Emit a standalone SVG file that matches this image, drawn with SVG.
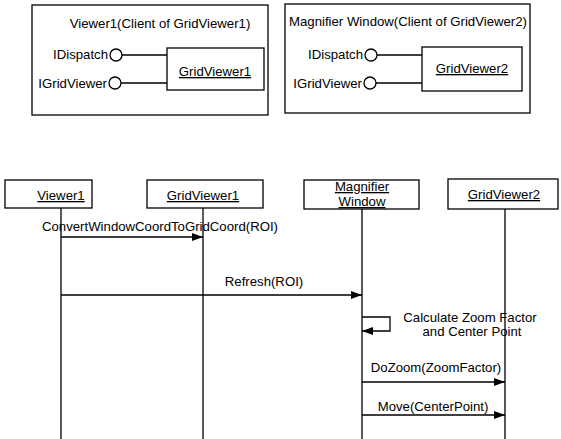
<svg xmlns="http://www.w3.org/2000/svg" width="561" height="439" viewBox="0 0 561 439">
<style>
text{font-family:"Liberation Sans",Arial,sans-serif;font-size:13.2px;fill:#000}
.b{fill:#fff;stroke:#000;stroke-width:1.3}
.l{stroke:#000;stroke-width:1.3;fill:none}
.c{text-anchor:middle}
.u{text-decoration:underline}
.e{text-anchor:end}
</style>
<defs>
<marker id="ah" markerWidth="12" markerHeight="8" refX="11" refY="4" orient="auto" markerUnits="userSpaceOnUse">
<path d="M0,0 L11,4 L0,8 Z" fill="#000"/>
</marker>
</defs>
<g id="viewer1-component">
<rect class="b" x="32" y="5" width="236" height="110"/>
<text class="c" x="160" y="28">Viewer1(Client of GridViewer1)</text>
<text class="e" x="108" y="59">IDispatch</text>
<text class="e" x="107" y="88">IGridViewer</text>
<circle class="b" cx="116" cy="55" r="6"/>
<circle class="b" cx="115" cy="83" r="6"/>
<line class="l" x1="122" y1="55" x2="167" y2="55"/>
<line class="l" x1="121" y1="83" x2="167" y2="83"/>
<rect class="b" x="167" y="48" width="97" height="42"/>
<text class="c u" x="215" y="76">GridViewer1</text>
</g>
<g id="magnifier-component">
<rect class="b" x="285" y="4" width="245" height="109"/>
<text class="c" x="408" y="26">Magnifier Window(Client of GridViewer2)</text>
<text class="e" x="363" y="59">IDispatch</text>
<text class="e" x="362" y="88">IGridViewer</text>
<circle class="b" cx="371" cy="55" r="6"/>
<circle class="b" cx="370" cy="83" r="6"/>
<line class="l" x1="377" y1="55" x2="422" y2="55"/>
<line class="l" x1="376" y1="83" x2="422" y2="83"/>
<rect class="b" x="422" y="47" width="100" height="44"/>
<text class="c u" x="472" y="73">GridViewer2</text>
</g>
<g id="lifelines">
<line class="l" x1="61" y1="208" x2="61" y2="439"/>
<line class="l" x1="203" y1="208" x2="203" y2="439"/>
<line class="l" x1="362" y1="209" x2="362" y2="439"/>
<line class="l" x1="505" y1="209" x2="505" y2="439"/>
</g>
<g id="obj-viewer1">
<rect class="b" x="5" y="180" width="87" height="28"/>
<text class="c u" x="61" y="200">Viewer1</text>
</g>
<g id="obj-gridviewer1">
<rect class="b" x="147" y="180" width="116" height="28"/>
<text class="c u" x="203" y="200">GridViewer1</text>
</g>
<g id="obj-magnifier">
<rect class="b" x="304" y="180" width="115" height="29"/>
<text class="c u" x="362" y="191">Magnifier</text>
<text class="c u" x="362" y="206">Window</text>
</g>
<g id="obj-gridviewer2">
<rect class="b" x="448" y="179" width="110" height="30"/>
<text class="c u" x="504" y="199">GridViewer2</text>
</g>
<g id="connectors">
<line class="l" x1="61" y1="237" x2="203" y2="237" marker-end="url(#ah)"/>
<line class="l" x1="61" y1="295" x2="362" y2="295" marker-end="url(#ah)"/>
<path class="l" d="M362,317 H390 V331 H362" marker-end="url(#ah)"/>
<line class="l" x1="362" y1="382" x2="505" y2="382" marker-end="url(#ah)"/>
<line class="l" x1="362" y1="415" x2="505" y2="415" marker-end="url(#ah)"/>
</g>
<g id="labels">
<text class="c" x="160" y="231">ConvertWindowCoordToGridCoord(ROI)</text>
<text class="c" x="264" y="286">Refresh(ROI)</text>
<text class="c" x="470" y="322">Calculate Zoom Factor</text>
<text class="c" x="472" y="336">and Center Point</text>
<text class="c" x="436" y="372">DoZoom(ZoomFactor)</text>
<text class="c" x="433" y="411">Move(CenterPoint)</text>
</g>
</svg>
